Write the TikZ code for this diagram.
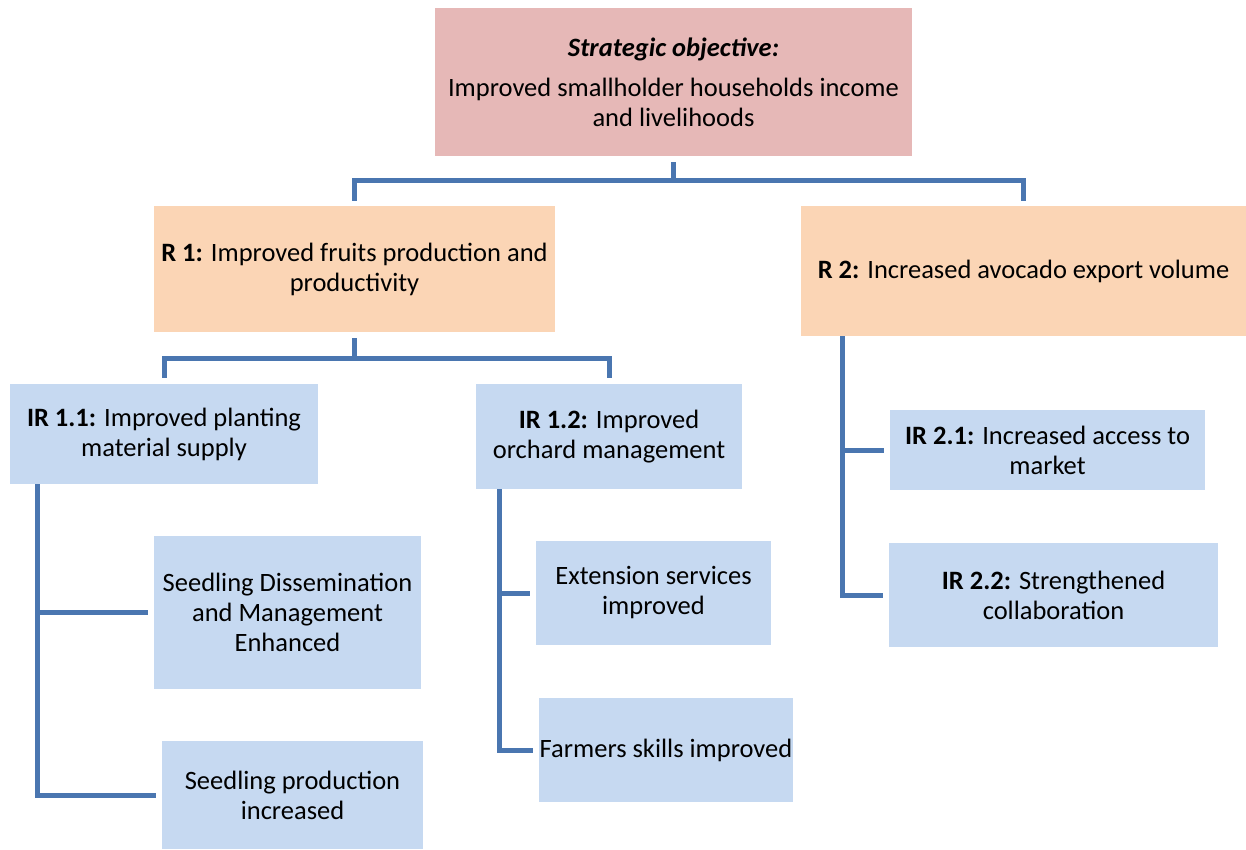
\documentclass[tikz,border=0pt]{standalone}
\usepackage{fontspec}
\setmainfont{Carlito}
\usetikzlibrary{calc}
\definecolor{sopink}{HTML}{E6B8B7}
\definecolor{rpeach}{HTML}{FBD5B5}
\definecolor{irblue}{HTML}{C6D9F1}
\definecolor{conn}{HTML}{4A76B0}
\tikzset{
  boxbase/.style={inner sep=0pt, align=center, font=\fontsize{26.5}{30}\selectfont},
  sobox/.style={boxbase, fill=sopink},
  rbox/.style={boxbase, fill=rpeach},
  irbox/.style={boxbase, fill=irblue},
  link/.style={draw=conn, line width=5pt},
}
\begin{document}
\begin{tikzpicture}[x=1pt,y=-1pt]
\useasboundingbox (0,0) rectangle (1246,849);
% boxes
\node[sobox, minimum width=477pt, minimum height=148pt] (so) at (673.5,82) {\textbf{\textit{Strategic objective:}}\\[10pt]Improved smallholder households income\\and livelihoods};
\node[rbox, minimum width=401pt, minimum height=126pt] (r1) at (354.5,269) {\textbf{R 1:} Improved fruits production and\\productivity};
\node[rbox, minimum width=445pt, minimum height=130pt] (r2) at (1023.5,271) {\textbf{R 2:} Increased avocado export volume};
\node[irbox, minimum width=308pt, minimum height=100pt] (ir11) at (164,434) {\textbf{IR 1.1:} Improved planting\\material supply};
\node[irbox, minimum width=266pt, minimum height=105pt] (ir12) at (609,436.5) {\textbf{IR 1.2:} Improved\\orchard management};
\node[irbox, minimum width=267pt, minimum height=153pt] (sd) at (287.5,612.5) {Seedling Dissemination\\and Management\\Enhanced};
\node[irbox, minimum width=261pt, minimum height=108pt] (sp) at (292.5,795) {Seedling production\\increased};
\node[irbox, minimum width=235pt, minimum height=104pt] (es) at (653.5,593) {Extension services\\improved};
\node[irbox, minimum width=254pt, minimum height=104pt] (fs) at (666,750) {Farmers skills improved};
\node[irbox, minimum width=315pt, minimum height=80pt] (ir21) at (1047.5,450) {\textbf{IR 2.1:} Increased access to\\market};
\node[irbox, minimum width=329pt, minimum height=104pt] (ir22) at (1053.5,595) {\textbf{IR 2.2:} Strengthened\\collaboration};
% junctions
\coordinate (j0) at (so.south |- 0,180);
\coordinate (j1) at (r1.south |- 0,358);
% connectors
\draw[link] ([yshift=-6pt]so.south) -- (j0);
\draw[link] ([yshift=5pt]r1.north) |- (j0) -| ([yshift=5pt]r2.north);
\draw[link] ([yshift=-6pt]r1.south) -- (j1);
\draw[link] ([yshift=6pt]ir11.north) |- (j1) -| ([yshift=6pt]ir12.north);
\draw[link] ($(ir11.south west)+(28,6)$) |- ([xshift=-6pt]sp.west);
\draw[link] ($(ir11.south west)+(28,0)$) |- ([xshift=-6pt]sd.west);
\draw[link] ($(ir12.south west)+(24,6)$) |- ([xshift=-6pt]fs.west);
\draw[link] ($(ir12.south west)+(24,0)$) |- ([xshift=-6pt]es.west);
\draw[link] ($(r2.south west)+(42,6)$) |- ([xshift=-6pt]ir22.west);
\draw[link] ($(r2.south west)+(42,0)$) |- ([xshift=-6pt]ir21.west);
\end{tikzpicture}
\end{document}
